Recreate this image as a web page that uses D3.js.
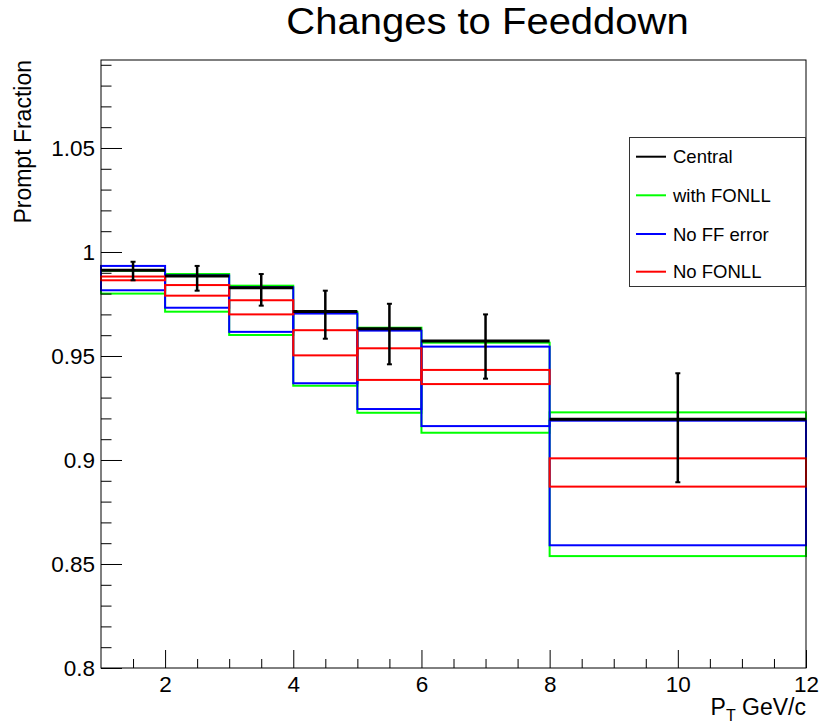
<!DOCTYPE html>
<html>
<head>
<meta charset="utf-8">
<script src="https://cdn.jsdelivr.net/npm/d3@7"></script>
<style>
  html, body { margin: 0; padding: 0; background: #fff; }
  svg { display: block; font-family: "Liberation Sans", Arial, Helvetica, sans-serif; }
</style>
</head>
<body>
<svg id="chart" width="822" height="727"></svg>
<script>
// pT bin edges (GeV/c)
const binLo = [1, 2, 3, 4, 5, 6, 8];
const binHi = [2, 3, 4, 5, 6, 8, 12];
const binCenter = [1.5, 2.5, 3.5, 4.5, 5.5, 7, 10];

// Central prompt fraction and its uncertainty range
const central   = [0.9912, 0.9885, 0.9828, 0.9714, 0.9631, 0.9572, 0.9196];
const centralHi = [0.9953, 0.9933, 0.9894, 0.9814, 0.9751, 0.9700, 0.9417];
const centralLo = [0.9864, 0.9814, 0.9742, 0.9583, 0.9460, 0.9391, 0.8893];

// Variations: upper / lower edge of each band
const fonllUp   = [0.9910, 0.9894, 0.9838, 0.9712, 0.9636, 0.9564, 0.9229];
const fonllDown = [0.9800, 0.9713, 0.9601, 0.9357, 0.9227, 0.9131, 0.8538];
const noFFUp    = [0.9933, 0.9887, 0.9830, 0.9704, 0.9622, 0.9545, 0.9189];
const noFFDown  = [0.9816, 0.9732, 0.9616, 0.9369, 0.9245, 0.9163, 0.8590];
const noFonllUp   = [0.9882, 0.9841, 0.9768, 0.9624, 0.9537, 0.9433, 0.9008];
const noFonllDown = [0.9864, 0.9790, 0.9700, 0.9503, 0.9385, 0.9365, 0.8872];

// Axis ticks
const xTickValues = [2, 4, 6, 8, 10, 12];
const xTickLabels = ["2", "4", "6", "8", "10", "12"];
const yTickValues = [0.8, 0.85, 0.9, 0.95, 1.0, 1.05];
const yTickLabels = ["0.8", "0.85", "0.9", "0.95", "1", "1.05"];

const legendLabels = ["Central", "with FONLL", "No FF error", "No FONLL"];
const legendColors = ["#000000", "#00ff00", "#0000ff", "#ff0000"];

const svg = d3.select("#chart");
const frame = { left: 101, right: 806, top: 60, bottom: 668 };

const x = d3.scaleLinear().domain([1, 12]).range([frame.left, frame.right]);
const y = d3.scaleLinear().domain([0.8, 1.0923]).range([frame.bottom, frame.top]);

// Title
svg.append("text")
  .attr("transform", "translate(487.5,33.5) scale(1,0.91)")
  .attr("text-anchor", "middle")
  .attr("font-size", 40)
  .attr("fill", "#000")
  .text("Changes to Feeddown");

// Band boxes for each variation, one outlined box per bin
function drawBands(up, down, color) {
  const g = svg.append("g");
  binLo.forEach((lo, i) => {
    g.append("rect")
      .attr("x", x(lo))
      .attr("y", y(up[i]))
      .attr("width", x(binHi[i]) - x(lo))
      .attr("height", y(down[i]) - y(up[i]))
      .attr("fill", "none")
      .attr("stroke", color)
      .attr("stroke-width", 2);
  });
}
drawBands(fonllUp, fonllDown, legendColors[1]);
drawBands(noFFUp, noFFDown, legendColors[2]);
drawBands(noFonllUp, noFonllDown, legendColors[3]);

// Central values: horizontal bin-wide segments plus error bars
const gc = svg.append("g").attr("stroke", "#000");
binLo.forEach((lo, i) => {
  gc.append("line")
    .attr("x1", x(lo)).attr("x2", x(binHi[i]))
    .attr("y1", y(central[i])).attr("y2", y(central[i]))
    .attr("stroke-width", 3);
  const cx = x(binCenter[i]);
  gc.append("line")
    .attr("x1", cx).attr("x2", cx)
    .attr("y1", y(centralHi[i])).attr("y2", y(centralLo[i]))
    .attr("stroke-width", 2.5);
  [centralHi[i], centralLo[i]].forEach(v => {
    gc.append("line")
      .attr("x1", cx - 2.5).attr("x2", cx + 2.5)
      .attr("y1", y(v)).attr("y2", y(v))
      .attr("stroke-width", 2);
  });
});

// Frame
svg.append("rect")
  .attr("x", frame.left).attr("y", frame.top)
  .attr("width", frame.right - frame.left)
  .attr("height", frame.bottom - frame.top)
  .attr("fill", "none").attr("stroke", "#000").attr("stroke-width", 1);

// X axis: major ticks with labels, minor ticks every 0.5
const xAxis = d3.axisBottom(x)
  .tickValues(xTickValues)
  .tickFormat((d, i) => xTickLabels[i])
  .tickSize(-18).tickPadding(8);
const xMinor = d3.axisBottom(x)
  .tickValues(d3.range(3, 24).map(v => v / 2).filter(v => v % 2 !== 0))
  .tickFormat("").tickSize(-9);
const gx = svg.append("g").attr("transform", `translate(0,${frame.bottom})`).call(xAxis);
const gxm = svg.append("g").attr("transform", `translate(0,${frame.bottom})`).call(xMinor);

// Y axis: major ticks with labels, minor ticks every 0.01
const yAxis = d3.axisLeft(y)
  .tickValues(yTickValues)
  .tickFormat((d, i) => yTickLabels[i])
  .tickSize(-21).tickPadding(6);
const yMinor = d3.axisLeft(y)
  .tickValues(d3.range(81, 110).map(v => v / 100).filter(v => Math.round(v * 100) % 5 !== 0))
  .tickFormat("").tickSize(-10.5);
const gy = svg.append("g").attr("transform", `translate(${frame.left},0)`).call(yAxis);
const gym = svg.append("g").attr("transform", `translate(${frame.left},0)`).call(yMinor);

[gx, gxm, gy, gym].forEach(g => {
  g.select(".domain").remove();
  g.selectAll(".tick line").attr("stroke", "#000").attr("stroke-width", 1);
  g.selectAll("text")
    .attr("font-family", "'Liberation Sans', Arial, sans-serif")
    .attr("font-size", 22.5)
    .attr("fill", "#000");
});

// Axis titles
const xt = svg.append("text")
  .attr("x", frame.right).attr("y", 715)
  .attr("text-anchor", "end")
  .attr("font-size", 23)
  .attr("fill", "#000");
xt.append("tspan").text("P");
xt.append("tspan").attr("font-size", 16).attr("dy", 6).text("T");
xt.append("tspan").attr("dy", -6).text(" GeV/c");

svg.append("text")
  .attr("transform", `translate(31,${frame.top}) rotate(-90)`)
  .attr("text-anchor", "end")
  .attr("font-size", 23)
  .attr("fill", "#000")
  .text("Prompt Fraction");

// Legend
const leg = svg.append("g");
leg.append("rect")
  .attr("x", 629.5).attr("y", 137.5)
  .attr("width", 176).attr("height", 149)
  .attr("fill", "#fff").attr("stroke", "#333").attr("stroke-width", 1);
const rowY = [156.7, 195.3, 234, 271.7];
legendLabels.forEach((lab, i) => {
  leg.append("line")
    .attr("x1", 636).attr("x2", 666)
    .attr("y1", rowY[i]).attr("y2", rowY[i])
    .attr("stroke", legendColors[i]).attr("stroke-width", 2);
  leg.append("text")
    .attr("x", 673).attr("y", rowY[i])
    .attr("dy", "0.36em")
    .attr("font-size", 18.5)
    .attr("fill", "#000")
    .text(lab);
});
</script>
</body>
</html>
